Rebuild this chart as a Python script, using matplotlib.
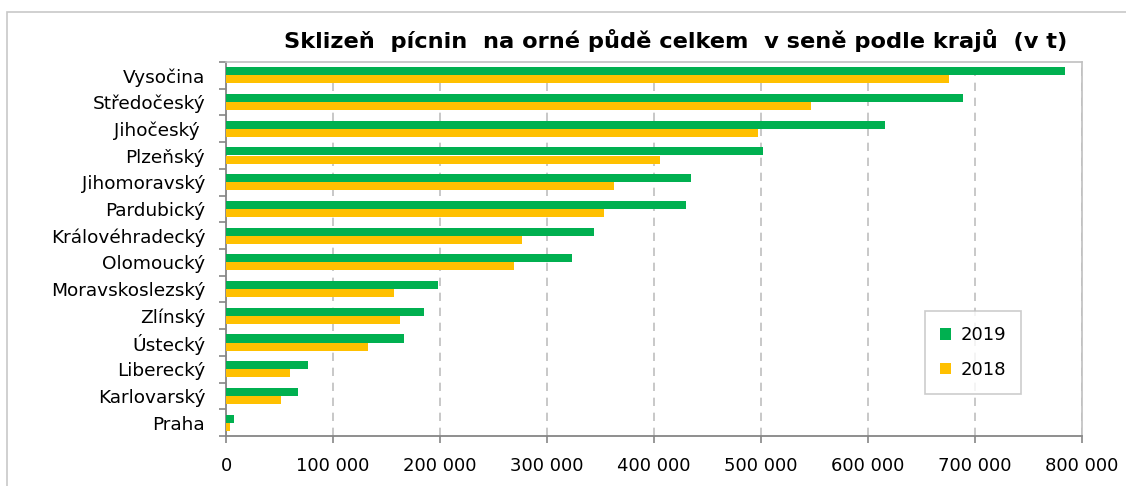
import matplotlib
matplotlib.use("Agg")
import matplotlib.pyplot as plt
import numpy as np
from matplotlib.patches import Rectangle
from matplotlib.ticker import FuncFormatter, MultipleLocator

regions = ["Vysočina", "Středočeský", "Jihočeský ", "Plzeňský", "Jihomoravský",
           "Pardubický", "Královéhradecký", "Olomoucký", "Moravskoslezský",
           "Zlínský", "Ústecký", "Liberecký", "Karlovarský", "Praha"]
v2019 = [784000, 689000, 616000, 502000, 435000, 430000, 344000, 323000,
         198000, 185000, 166000, 77000, 67000, 7800]
v2018 = [676000, 547000, 497000, 406000, 363000, 353000, 277000, 269000,
         157000, 163000, 133000, 60000, 51000, 4000]
title = "Sklizeň  pícnin  na orné půdě celkem  v seně podle krajů  (v t)"

W, H = 1126, 486
fig = plt.figure(figsize=(W / 100, H / 100), dpi=100)
plt.rcParams['font.family'] = ['DejaVu Sans']

# outer chart border
fig.patches.append(Rectangle((7 / W, -0.1), 1.2, 1 - 12 / H + 0.1, transform=fig.transFigure,
                             fill=False, edgecolor="#c8c8c8", linewidth=1.2))

left, right, top, bottom = 226 / W, 1082 / W, 62 / H, 436 / H
ax = fig.add_axes([left, 1 - bottom, right - left, bottom - top])

n = len(regions)
y = np.arange(n)
h = 0.3
green = "#00b050"
yellow = "#ffc000"
ax.barh(y - h / 2, v2019, height=h, color=green, label="2019", zorder=3)
ax.barh(y + h / 2, v2018, height=h, color=yellow, label="2018", zorder=3)

ax.set_ylim(n - 0.5, -0.5)
ax.set_xlim(0, 800000)
ax.xaxis.set_major_locator(MultipleLocator(100000))
ax.xaxis.set_major_formatter(FuncFormatter(lambda v, p: f"{int(v):,}".replace(",", " ")))
ax.set_yticks(y)
ax.set_yticklabels(regions)
ax.set_yticks(np.arange(-0.5, n, 1), minor=True)
ax.tick_params(axis="y", which="major", length=0, pad=15, labelsize=13.3)
ax.tick_params(axis="y", which="minor", length=5, color="#868686", width=1.2)
ax.tick_params(axis="x", length=5, color="#868686", width=1.2, labelsize=13, pad=10)

ax.grid(axis="x", color="#bfbfbf", linestyle=(0, (5, 4)), linewidth=1.2, zorder=0)
for s in ["left", "bottom"]:
    ax.spines[s].set_color("#868686")
    ax.spines[s].set_linewidth(1.3)
for s in ["top", "right"]:
    ax.spines[s].set_color("#c0c0c0")
    ax.spines[s].set_linewidth(1.2)

fig.text(676 / W, 1 - 40 / H, title, ha="center", va="center", fontsize=16.2, fontweight="bold")

leg = ax.legend(loc="upper left", bbox_to_anchor=((925 - 226) / (1082 - 226), 1 - (311 - 62) / (436 - 62)),
                frameon=True, fancybox=False, edgecolor="#c0c0c0", fontsize=13,
                handlelength=0.6, handleheight=0.6, labelspacing=0.9, borderpad=0.85,
                handletextpad=0.5, borderaxespad=0)
leg.get_frame().set_linewidth(1.2)

fig.savefig("out.png", dpi=100)
